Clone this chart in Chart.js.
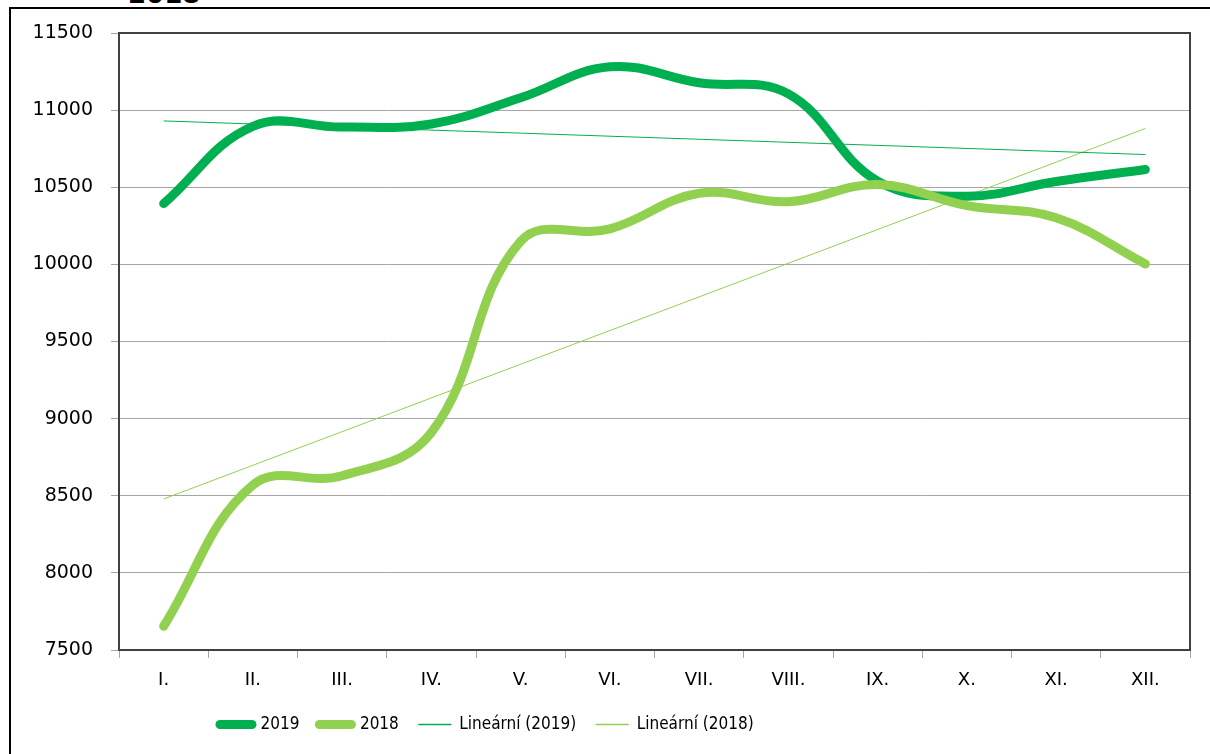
<!DOCTYPE html>
<html>
<head>
<meta charset="utf-8">
<script src="https://cdn.jsdelivr.net/npm/chart.js@4/dist/chart.umd.min.js"></script>
<style>
  html, body { margin: 0; padding: 0; background: #fff; }
  #wrap { position: relative; width: 1210px; height: 754px; overflow: hidden; }
  #frame { position: absolute; left: 9px; top: 7px; width: 1300px; height: 800px;
           border-top: 2px solid #000; border-left: 2px solid #000; }
  #title { position: absolute; left: 128px; top: -21px; line-height: 26px; font: bold 26px "DejaVu Sans", sans-serif; color: #000; }
  canvas { position: absolute; left: 0; top: 0; }
</style>
</head>
<body>
<div id="wrap">
  <div id="title">2018</div>
  <div id="frame"></div>
  <canvas id="mzdaChart" width="1210" height="754"></canvas>
</div>
<script>
// mesice
const months = ["I.", "II.", "III.", "IV.", "V.", "VI.", "VII.", "VIII.", "IX.", "X.", "XI.", "XII."];
// hodnoty
const values2019 = [10394, 10895, 10890, 10910, 11080, 11281, 11177, 11105, 10540, 10442, 10537, 10615];
const values2018 = [7654, 8570, 8630, 8910, 10150, 10230, 10461, 10406, 10518, 10381, 10302, 10003];
// linearni trend - jen koncove body, mezi nimi rovna cara
const trend2019 = [10930, null, null, null, null, null, null, null, null, null, null, 10712];
const trend2018 = [8479, null, null, null, null, null, null, null, null, null, null, 10881];
const yTicks = { min: 7500, max: 11500, step: 500 };

const green = "#00B050";
const lightGreen = "#92D050";
const gridColor = "#a6a6a6";

// ramecek kolem plochy grafu
const plotFrame = {
  id: "plotFrame",
  beforeDatasetsDraw(chart) {
    const { ctx, chartArea: a } = chart;
    ctx.save();
    ctx.strokeStyle = "#404040";
    ctx.lineWidth = 2;
    ctx.strokeRect(a.left, a.top, a.right - a.left, a.bottom - a.top);
    ctx.restore();
  }
};

// posun legendy doleva jako v originale
const legendShift = {
  id: "legendShift",
  afterLayout(chart) {
    const l = chart.legend;
    if (l) { l.left += 200; l.right += 200; }
  }
};

function initializeMzdaChart() {
  const ctx = document.getElementById("mzdaChart");
  new Chart(ctx.getContext("2d"), {
    type: "line",
    data: {
      labels: months,
      datasets: [
        { label: "2019", data: values2019, borderColor: green, backgroundColor: green,
          borderWidth: 9, borderCapStyle: "round", tension: 0.4, pointRadius: 0, order: 1 },
        { label: "2018", data: values2018, borderColor: lightGreen, backgroundColor: lightGreen,
          borderWidth: 9, borderCapStyle: "round", tension: 0.4, pointRadius: 0, order: 0 },
        { label: "Lineární (2019)", data: trend2019, borderColor: green, backgroundColor: green,
          borderWidth: 1, spanGaps: true, tension: 0, pointRadius: 0, order: 2 },
        { label: "Lineární (2018)", data: trend2018, borderColor: lightGreen, backgroundColor: lightGreen,
          borderWidth: 1, spanGaps: true, tension: 0, pointRadius: 0, order: 3 },
      ],
    },
    options: {
      responsive: false,
      animation: false,
      layout: { padding: { left: 0, top: 33, right: 20, bottom: 11 } },
      plugins: {
        tooltip: { enabled: false },
        legend: {
          position: "bottom",
          align: "start",
          labels: {
            usePointStyle: true,
            pointStyleWidth: 32,
            padding: 20,
            color: "#000",
            font: { family: "'Liberation Sans Narrow', 'DejaVu Sans Condensed', 'Liberation Sans', sans-serif", size: 17 },
            generateLabels: function(chart) {
              return chart.data.datasets.map((ds, i) => ({
                text: ds.label,
                strokeStyle: ds.borderColor,
                fillStyle: ds.borderColor,
                lineWidth: ds.borderWidth > 1 ? ds.borderWidth : 1.5,
                lineCap: "round",
                pointStyle: "line",
                hidden: !chart.isDatasetVisible(i),
                datasetIndex: i,
              }));
            }
          }
        }
      },
      scales: {
        x: {
          offset: true,
          grid: { offset: true, drawOnChartArea: false, color: gridColor, tickLength: 8 },
          border: { color: "#404040", width: 2 },
          ticks: { color: "#000", padding: 12, font: { family: "'DejaVu Sans', sans-serif", size: 18 } },
          afterFit(scale) { scale.height = 46; }
        },
        y: {
          min: yTicks.min,
          max: yTicks.max,
          grid: { color: gridColor, tickLength: 8 },
          border: { color: "#404040", width: 2 },
          ticks: { stepSize: yTicks.step, color: "#000", padding: 18,
                   font: { family: "'DejaVu Sans', sans-serif", size: 19 },
                   callback: (v) => String(v) },
          afterFit(scale) { scale.width = 119; }
        }
      }
    },
    plugins: [plotFrame, legendShift]
  });
}

initializeMzdaChart();
</script>
</body>
</html>
